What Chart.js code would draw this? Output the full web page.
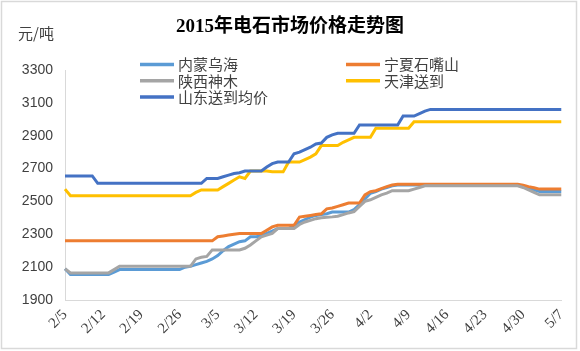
<!DOCTYPE html>
<html lang="zh">
<head>
    <meta charset="UTF-8">
    <title>2015年电石市场价格走势图</title>
    <script src="https://cdn.jsdelivr.net/npm/chart.js"></script>
    <style>
      body { margin: 0; background: #fff; }
      #priceChart { display: block; }
    </style>
</head>
<body>
    <canvas id="priceChart" width="580" height="351"></canvas>

    <script>
        // 数据 (2/5 ~ 5/7, 每天一个点)
        const tickLabels = ['2/5', '2/12', '2/19', '2/26', '3/5', '3/12', '3/19', '3/26', '4/2', '4/9', '4/16', '4/23', '4/30', '5/7'];
        const seriesNames = ['内蒙乌海', '宁夏石嘴山', '陕西神木', '天津送到', '山东送到均价'];
        const seriesColors = ['#5B9BD5', '#ED7D31', '#A5A5A5', '#FFC000', '#4472C4'];

        const days = [];
        for (let d = new Date(2015, 1, 5); d <= new Date(2015, 4, 7); d.setDate(d.getDate() + 1)) {
            days.push((d.getMonth() + 1) + '/' + d.getDate());
        }

        const neimeng = [
            2090, 2055, 2055, 2055, 2055, 2055, 2055, 2055, 2055, 2070,
            2085, 2085, 2085, 2085, 2085, 2085, 2085, 2085, 2085, 2085,
            2085, 2085, 2100, 2105, 2115, 2125, 2135, 2150, 2170, 2200,
            2225, 2240, 2255, 2260, 2285, 2285, 2290, 2305, 2320, 2335,
            2335, 2335, 2355, 2375, 2390, 2405, 2415, 2420, 2425, 2435,
            2435, 2435, 2435, 2450, 2480, 2515, 2550, 2560, 2575, 2585,
            2595, 2600, 2600, 2600, 2600, 2600, 2600, 2600, 2600, 2600,
            2600, 2600, 2600, 2600, 2600, 2600, 2600, 2600, 2600, 2600,
            2600, 2600, 2600, 2600, 2590, 2580, 2570, 2560, 2560, 2560,
            2560, 2560
        ];
        const ningxia = [
            2260, 2260, 2260, 2260, 2260, 2260, 2260, 2260, 2260, 2260,
            2260, 2260, 2260, 2260, 2260, 2260, 2260, 2260, 2260, 2260,
            2260, 2260, 2260, 2260, 2260, 2260, 2260, 2260, 2285, 2290,
            2295, 2300, 2305, 2305, 2305, 2305, 2305, 2325, 2345, 2355,
            2355, 2355, 2355, 2405, 2410, 2415, 2420, 2425, 2455, 2460,
            2470, 2480, 2490, 2490, 2490, 2540, 2560, 2565, 2578, 2590,
            2600, 2605, 2605, 2605, 2605, 2605, 2605, 2605, 2605, 2605,
            2605, 2605, 2605, 2605, 2605, 2605, 2605, 2605, 2605, 2605,
            2605, 2605, 2605, 2605, 2598, 2590, 2583, 2575, 2575, 2575,
            2575, 2575
        ];
        const shaanxi = [
            2090, 2065, 2065, 2065, 2065, 2065, 2065, 2065, 2065, 2085,
            2105, 2105, 2105, 2105, 2105, 2105, 2105, 2105, 2105, 2105,
            2105, 2105, 2105, 2105, 2150, 2160, 2165, 2205, 2205, 2205,
            2205, 2205, 2205, 2215, 2235, 2260, 2285, 2295, 2305, 2335,
            2335, 2335, 2335, 2360, 2375, 2385, 2395, 2400, 2403, 2406,
            2410, 2420, 2430, 2438, 2470, 2500, 2510, 2525, 2540, 2550,
            2565, 2565, 2565, 2565, 2575, 2585, 2595, 2595, 2595, 2595,
            2595, 2595, 2595, 2595, 2595, 2595, 2595, 2595, 2595, 2595,
            2595, 2595, 2595, 2595, 2585, 2570, 2555, 2540, 2540, 2540,
            2540, 2540
        ];
        const tianjin = [
            2575, 2535, 2535, 2535, 2535, 2535, 2535, 2535, 2535, 2535,
            2535, 2535, 2535, 2535, 2535, 2535, 2535, 2535, 2535, 2535,
            2535, 2535, 2535, 2535, 2555, 2570, 2570, 2570, 2570, 2590,
            2610, 2630, 2650, 2640, 2685, 2685, 2685, 2685, 2680, 2680,
            2680, 2740, 2740, 2740, 2755, 2770, 2790, 2840, 2840, 2840,
            2840, 2860, 2875, 2890, 2890, 2890, 2890, 2945, 2945, 2945,
            2945, 2945, 2945, 2945, 2985, 2985, 2985, 2985, 2985, 2985,
            2985, 2985, 2985, 2985, 2985, 2985, 2985, 2985, 2985, 2985,
            2985, 2985, 2985, 2985, 2985, 2985, 2985, 2985, 2985, 2985,
            2985, 2985
        ];
        const shandong = [
            2655, 2655, 2655, 2655, 2655, 2655, 2610, 2610, 2610, 2610,
            2610, 2610, 2610, 2610, 2610, 2610, 2610, 2610, 2610, 2610,
            2610, 2610, 2610, 2610, 2610, 2610, 2640, 2640, 2640, 2650,
            2660, 2670, 2675, 2685, 2685, 2685, 2685, 2710, 2730, 2740,
            2740, 2740, 2790, 2800, 2815, 2830, 2850, 2855, 2890, 2905,
            2915, 2915, 2915, 2915, 2965, 2965, 2965, 2965, 2965, 2965,
            2965, 2965, 3020, 3020, 3020, 3035, 3050, 3060, 3060, 3060,
            3060, 3060, 3060, 3060, 3060, 3060, 3060, 3060, 3060, 3060,
            3060, 3060, 3060, 3060, 3060, 3060, 3060, 3060, 3060, 3060,
            3060, 3060
        ];
        const seriesValues = [neimeng, ningxia, shaanxi, tianjin, shandong];

        // 标题、单位、图例、边框
        const decorPlugin = {
            id: 'decorPlugin',
            beforeDraw(chart) {
                const {ctx} = chart;
                ctx.save();
                ctx.fillStyle = '#ffffff';
                ctx.fillRect(0, 0, chart.width, chart.height);
                ctx.strokeStyle = '#D9D9D9';
                ctx.lineWidth = 1.5;
                ctx.strokeRect(1.5, 1.5, chart.width - 5, chart.height - 4);
                ctx.restore();
            },
            afterDraw(chart) {
                const {ctx} = chart;
                ctx.save();
                ctx.textBaseline = 'middle';

                ctx.fillStyle = '#000000';
                ctx.textAlign = 'center';
                ctx.font = 'bold 19px "Liberation Serif", "Noto Sans CJK SC"';
                ctx.fillText('2015年电石市场价格走势图', 290, 27);

                ctx.fillStyle = '#404040';
                ctx.textAlign = 'left';
                ctx.font = '15px "Noto Sans CJK SC"';
                ctx.fillText('元/吨', 18, 33);

                chart.data.datasets.forEach((ds, i) => {
                    const col = i % 2;
                    const row = Math.floor(i / 2);
                    const x = col === 0 ? 140 : 346;
                    const y = 64.5 + row * 16.3;
                    ctx.strokeStyle = ds.borderColor;
                    ctx.lineWidth = 3.5;
                    ctx.beginPath();
                    ctx.moveTo(x, y);
                    ctx.lineTo(x + 34, y);
                    ctx.stroke();
                    ctx.fillStyle = '#404040';
                    ctx.font = '15px "Noto Sans CJK SC"';
                    ctx.fillText(ds.label, x + 38, y);
                });
                ctx.restore();
            }
        };

        const config = {
            type: 'line',
            data: {
                labels: days,
                datasets: seriesNames.map((name, i) => ({
                    label: name,
                    data: seriesValues[i],
                    borderColor: seriesColors[i],
                    backgroundColor: seriesColors[i],
                    borderWidth: 3,
                    pointRadius: 0,
                    tension: 0,
                    order: seriesNames.length - i
                }))
            },
            options: {
                responsive: false,
                animation: false,
                layout: {
                    padding: {top: 70, right: 18, bottom: 0, left: 0}
                },
                plugins: {
                    legend: { display: false },
                    title: { display: false },
                    tooltip: { enabled: false }
                },
                scales: {
                    x: {
                        grid: { display: false, drawTicks: false },
                        border: { display: true, color: '#D9D9D9', width: 1 },
                        ticks: {
                            autoSkip: false,
                            minRotation: 45,
                            maxRotation: 45,
                            padding: 6,
                            color: '#404040',
                            font: { family: '"Liberation Serif"', size: 15 },
                            callback: function(value) {
                                const lab = this.getLabelForValue(value);
                                return tickLabels.includes(lab) ? lab : null;
                            }
                        },
                        afterFit(scale) { scale.height = 51; }
                    },
                    y: {
                        min: 1900,
                        max: 3300,
                        grid: { display: false, drawTicks: false },
                        border: { display: true, color: '#D9D9D9', width: 1 },
                        ticks: {
                            stepSize: 200,
                            padding: 12,
                            color: '#404040',
                            font: { family: '"Liberation Sans"', size: 14 },
                            callback: (value) => String(value)
                        },
                        afterFit(scale) { scale.width = 65; }
                    }
                }
            },
            plugins: [decorPlugin]
        };

        new Chart(document.getElementById('priceChart').getContext('2d'), config);
    </script>
</body>
</html>
